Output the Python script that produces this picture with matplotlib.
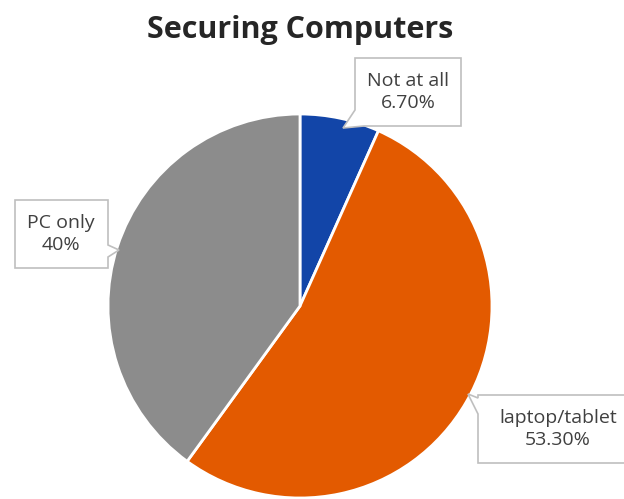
import matplotlib
matplotlib.use("Agg")
import matplotlib.pyplot as plt
from matplotlib.patches import Polygon

categories = ["Not at all", "laptop/tablet", "PC only"]
values = [6.7, 53.3, 40.0]
value_labels = ["6.70%", "53.30%", "40%"]
colors = ["#1245a8", "#e35a00", "#8c8c8c"]

W, H = 624, 499
fig = plt.figure(figsize=(W / 100, H / 100), dpi=100)
ax = fig.add_axes([0, 0, 1, 1])
ax.set_xlim(0, W)
ax.set_ylim(0, H)
ax.set_aspect("equal")
ax.axis("off")

cx, cy, r = 300, H - 306, 192
ax.pie(values, colors=colors, startangle=90, counterclock=False,
       center=(cx, cy), radius=r, frame=True,
       wedgeprops=dict(edgecolor="white", linewidth=2))
ax.set_xlim(0, W)
ax.set_ylim(0, H)
ax.axis("off")

fig.text(300 / W, 1 - 30 / H, "Securing Computers", ha="center", va="center",
         fontsize=22, fontweight="bold", family="Open Sans", color="#262626")

def y(v):
    return H - v

# callouts: box (x0, y0, x1, y1) in image px, tab (start on edge, tip, end on edge)
callouts = [
    ((355, 58, 461, 126), [(355, 110), (343, 128), (364, 126)]),
    ((478, 395, 640, 463), [(478, 398), (468, 394), (478, 414)]),
    ((15, 200, 108, 268), [(108, 245), (119, 250), (108, 257)]),
]
text_x = [408, 558, 61]

for i, ((x0, y0, x1, y1), tab) in enumerate(callouts):
    (ax_, ay_), (tx, ty), (bx, by) = tab
    if i == 0:
        pts = [(x0, y0), (x1, y0), (x1, y1), (bx, by), (tx, ty), (ax_, ay_)]
    elif i == 1:
        pts = [(ax_, ay_), (x0, y0), (x1, y0), (x1, y1), (x0, y1), (bx, by), (tx, ty)]
    else:
        pts = [(x0, y0), (x1, y0), (ax_, ay_), (tx, ty), (bx, by), (x1, y1), (x0, y1)]
    poly = Polygon([(px, y(py)) for px, py in pts], closed=True,
                   facecolor="white", edgecolor="#bfbfbf", linewidth=1.2, zorder=5)
    ax.add_patch(poly)
    ax.text(text_x[i], y((y0 + y1) / 2), categories[i] + "\n" + value_labels[i],
            ha="center", va="center", fontsize=14, family="Open Sans",
            color="#404040", linespacing=1.3, zorder=6)

fig.savefig("out.png", dpi=100)
